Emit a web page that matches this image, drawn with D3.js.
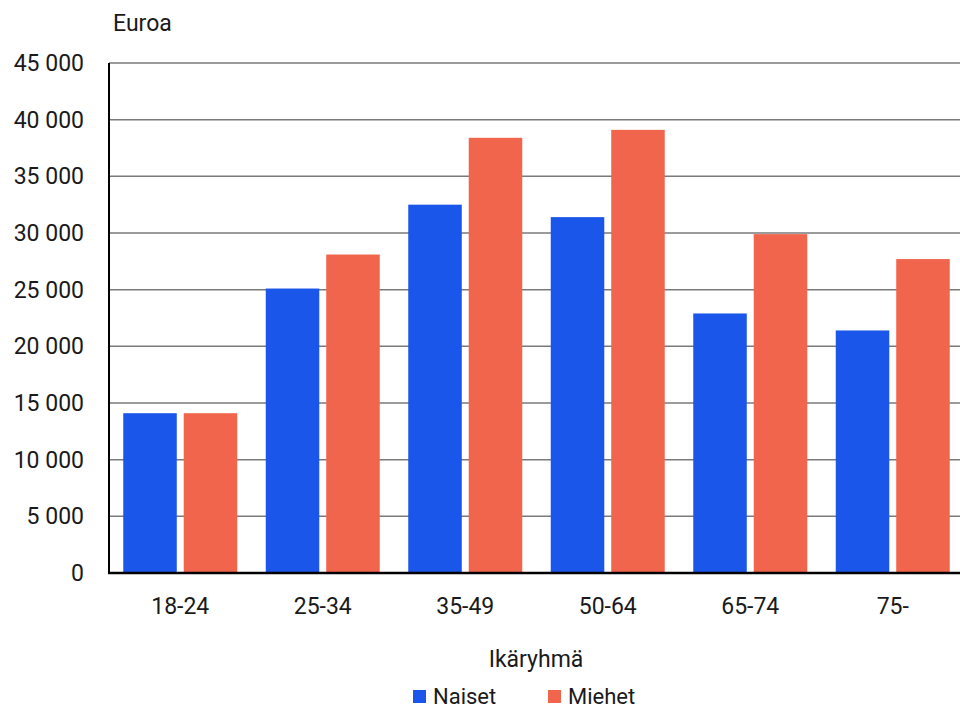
<!DOCTYPE html>
<html><head><meta charset="utf-8">
<script src="https://cdn.jsdelivr.net/npm/d3@7"></script>
<style>body{margin:0;background:#fff}svg{display:block;font-family:Roboto,"Noto Sans",sans-serif}</style>
</head><body><svg id="c" width="960" height="711"></svg>
<script>
const categories = ["18-24","25-34","35-49","50-64","65-74","75-"];
const seriesNames = ["Naiset","Miehet"];
const naiset = [14100,25100,32500,31400,22900,21400];
const miehet = [14100,28100,38400,39100,29900,27700];
const yTicks = [0,5000,10000,15000,20000,25000,30000,35000,40000,45000];
const colors = ["#1b56ea","#f2654d"];

const svg = d3.select("#c");
const x0 = d3.scaleBand().domain(categories).range([109,964]).paddingInner(0.2).paddingOuter(0.1);
const x1 = d3.scaleBand().domain(seriesNames).range([0,x0.bandwidth()]).paddingInner(0.115);
const y = d3.scaleLinear().domain([0,45000]).range([573,63]);
const fmt = v => d3.format(",")(v).replace(/,/g," ");
const FS = 23, TC = "#1a1a1a";

// gridlines
svg.append("g").selectAll("line").data(yTicks.filter(d=>d>0)).join("line")
  .attr("x1",109).attr("x2",960).attr("y1",d=>y(d)).attr("y2",d=>y(d))
  .attr("stroke","#7a7a7a").attr("stroke-width",1.5);

// bars
const data = categories.map((c,i)=>({c, vals:[naiset[i],miehet[i]]}));
const g = svg.append("g").selectAll("g").data(data).join("g").attr("transform",d=>`translate(${x0(d.c)},0)`);
g.selectAll("rect").data(d=>d.vals.map((v,j)=>({s:seriesNames[j],v,j}))).join("rect")
  .attr("x",d=>x1(d.s)).attr("width",x1.bandwidth())
  .attr("y",d=>y(d.v)).attr("height",d=>y(0)-y(d.v)).attr("fill",d=>colors[d.j]);

// y axis
const ya = svg.append("g").attr("transform","translate(109,0)")
  .call(d3.axisLeft(y).tickValues(yTicks).tickFormat(fmt).tickSize(0).tickPadding(25));
ya.select(".domain").remove();
ya.selectAll("text").attr("font-size",FS).attr("fill",TC).attr("font-family","Roboto,sans-serif");

// x axis
const xa = svg.append("g").attr("transform","translate(0,573)")
  .call(d3.axisBottom(x0).tickSize(0).tickPadding(25));
xa.select(".domain").remove();
xa.selectAll("text").attr("font-size",FS).attr("fill",TC).attr("font-family","Roboto,sans-serif");

// axis lines
svg.append("line").attr("x1",109).attr("x2",109).attr("y1",63).attr("y2",574).attr("stroke","#000").attr("stroke-width",2);
svg.append("line").attr("x1",108).attr("x2",960).attr("y1",573).attr("y2",573).attr("stroke","#000").attr("stroke-width",2.5);

// titles
svg.append("text").attr("x",113).attr("y",31).attr("font-size",FS).attr("fill",TC).text("Euroa");
svg.append("text").attr("x",536).attr("y",667).attr("text-anchor","middle").attr("font-size",FS).attr("fill",TC).text("Ikäryhmä");

// legend
const legX = [413,548];
seriesNames.forEach((s,i)=>{
  svg.append("rect").attr("x",legX[i]).attr("y",690).attr("width",13).attr("height",13).attr("fill",colors[i]);
  svg.append("text").attr("x",legX[i]+20).attr("y",704).attr("font-size",22).attr("fill",TC).text(s);
});
</script></body></html>
